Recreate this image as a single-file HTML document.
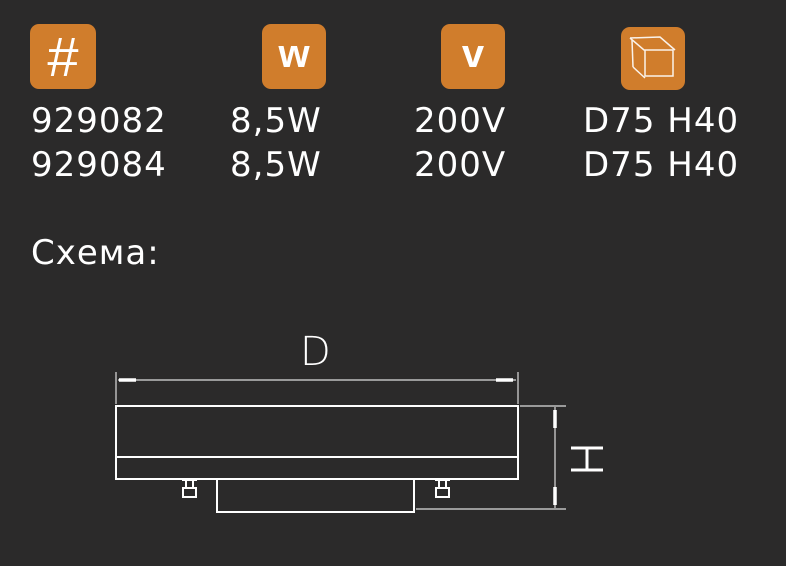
<!DOCTYPE html>
<html><head><meta charset="utf-8"><style>
html,body{margin:0;padding:0;background:#2b2a2a;}
body{width:786px;height:566px;position:relative;overflow:hidden;font-family:"DejaVu Sans","Liberation Sans",sans-serif;color:#fff;}
.t{position:absolute;font-size:34px;line-height:1;white-space:nowrap;letter-spacing:1px;}
.ic{position:absolute;background:#d07d2c;border-radius:9px;display:flex;align-items:center;justify-content:center;color:#fff;font-family:"Liberation Sans",sans-serif;font-weight:bold;}
</style></head><body>
<div class="ic" style="left:30px;top:24px;width:66px;height:65px;font-size:56px;font-weight:normal;">#</div>
<div class="ic" style="left:262px;top:24px;width:64px;height:65px;font-size:40px;"><span style="margin-top:-4px">w</span></div>
<div class="ic" style="left:441px;top:24px;width:64px;height:65px;font-size:40px;"><span style="margin-top:-4px">v</span></div>
<div class="ic" style="left:621px;top:27px;width:64px;height:63px;"></div>
<svg style="position:absolute;left:0;top:0" width="786" height="566">
<g stroke="#fff" stroke-width="1.5" fill="none" opacity="0.9">
<polyline points="630,38 644,50 673,50 673,76 645,76 645,50"/>
<polyline points="630,38 660,37 675,50"/>
<line x1="632" y1="40" x2="633" y2="67"/><line x1="633" y1="67" x2="645" y2="78"/>
</g>
<g stroke="#fff" stroke-width="2" fill="none">
<rect x="116" y="406" width="402" height="73"/>
<line x1="116" y1="457" x2="518" y2="457"/>
<polyline points="217,479 217,512 414,512 414,479"/>
<path d="M183,497 h13 v-9 h-13 z M186,488 v-8 M193,488 v-8 M182,480 h15"/>
<path d="M436,497 h13 v-9 h-13 z M439,488 v-8 M446,488 v-8 M435,480 h15"/>
</g>
<g stroke="#ddd" stroke-width="1.2" fill="none">
<line x1="116" y1="372" x2="116" y2="404"/><line x1="518" y1="372" x2="518" y2="404"/>
<line x1="118" y1="380" x2="516" y2="380"/>
<line x1="520" y1="406" x2="566" y2="406"/><line x1="416" y1="509" x2="566" y2="509"/>
<line x1="555" y1="407" x2="555" y2="508"/>
</g>
<g stroke="#fff" stroke-width="3.5"><line x1="119" y1="380" x2="136" y2="380"/><line x1="496" y1="380" x2="513" y2="380"/>
<line x1="555" y1="410" x2="555" y2="428"/><line x1="555" y1="487" x2="555" y2="505"/></g>
<g stroke="#fff" stroke-width="3"><line x1="571" y1="448" x2="603" y2="448"/><line x1="571" y1="470" x2="603" y2="470"/><line x1="587" y1="448" x2="587" y2="470"/></g>
<text x="300" y="365" fill="#fff" font-family="DejaVu Sans, sans-serif" font-size="40" font-weight="200">D</text>
</svg>
<div class="t" style="left:31px;top:104px;">929082</div>
<div class="t" style="left:230px;top:104px;">8,5W</div>
<div class="t" style="left:414px;top:104px;">200V</div>
<div class="t" style="left:583px;top:104px;">D75 H40</div>
<div class="t" style="left:31px;top:148px;">929084</div>
<div class="t" style="left:230px;top:148px;">8,5W</div>
<div class="t" style="left:414px;top:148px;">200V</div>
<div class="t" style="left:583px;top:148px;">D75 H40</div>
<div class="t" style="left:31px;top:236px;">Схема:</div>
</body></html>
